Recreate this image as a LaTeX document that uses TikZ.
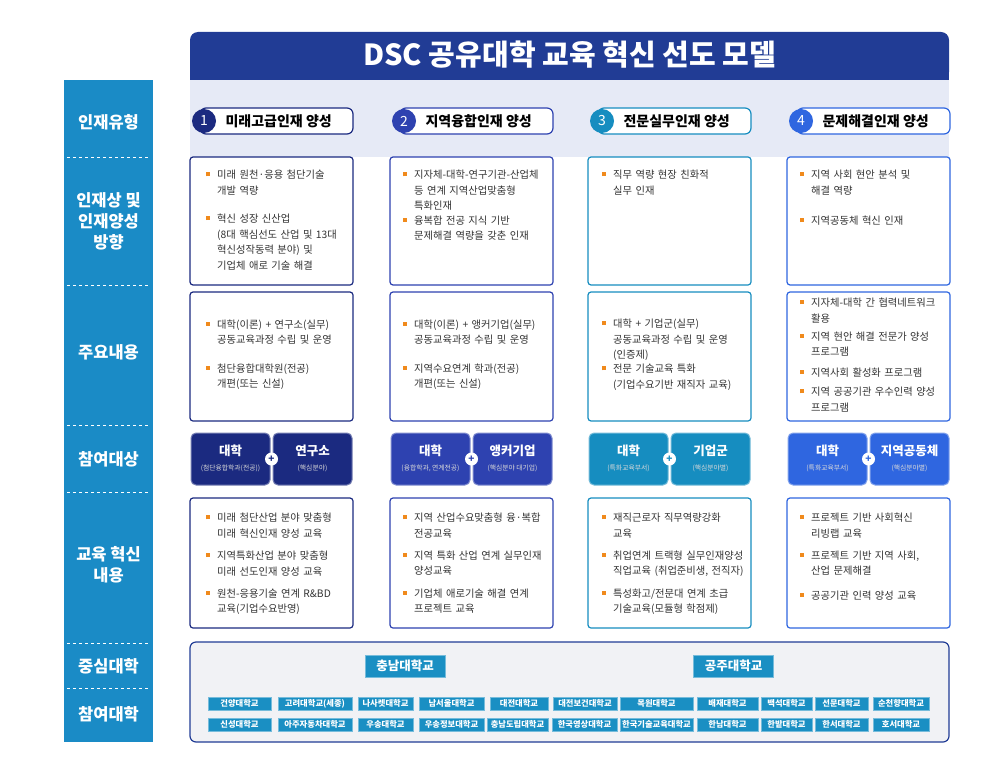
\documentclass[tikz,border=0pt]{standalone}
\usepackage{fontspec}
\setmainfont{Noto Sans CJK KR}
\usetikzlibrary{calc}
\definecolor{lbar}{HTML}{1A8BC6}
\definecolor{tbar}{HTML}{213C95}
\definecolor{light}{HTML}{E6EAF6}
\definecolor{cA}{HTML}{1B2A80}
\definecolor{cB}{HTML}{2E42B0}
\definecolor{cC}{HTML}{168DC0}
\definecolor{cD}{HTML}{2F66E0}
\definecolor{borange}{HTML}{F08A1C}
\definecolor{txt}{HTML}{333333}
\definecolor{uni}{HTML}{1A8FC3}
\definecolor{gbg}{HTML}{F1F2F5}
\newcommand\bi[1]{\noindent\makebox[11pt][l]{\textcolor{borange}{\rule[2.5pt]{4pt}{4pt}}}\parbox[t]{145pt}{#1\strut}\par}
\newcommand\gap{\vspace{14pt}}
\newcommand\sgap{\vspace{4pt}}
\newcommand\mgap{\vspace{8pt}}
\tikzset{
  lab/.style={text=white,font=\bfseries\fontsize{16.5}{21}\selectfont,align=center},
  box/.style={draw=#1,line width=1.2pt,rounded corners=3pt,fill=white},
  btxt/.style={anchor=north west,text width=156pt,font=\fontsize{10.3}{15.5}\selectfont,text=txt,inner sep=0pt},
  ctxt/.style={anchor=west,text width=156pt,font=\fontsize{10.3}{15.5}\selectfont,text=txt,inner sep=0pt},
  chip/.style={fill=#1,draw=#1!60!white,line width=1pt,rounded corners=5pt},
  uc/.style={fill=uni,draw=uni!60!white,line width=0.6pt,text=white,font=\bfseries\fontsize{8.3}{9}\selectfont,inner sep=0pt,minimum height=13pt},
  sep/.style={white,dashed,line width=1pt}
}
\begin{document}
\begin{tikzpicture}[x=1pt,y=-1pt]
\useasboundingbox (0,0) rectangle (1000,773);
% left bar
\fill[lbar] (64,80) rectangle (153,742);
\foreach \y in {157,285,425,492,643,688} \draw[sep] (67,\y) -- (150,\y);
\node[lab] (l1) at (108.5,122) {인재유형};
\node[lab] (l2) at (108.5,221) {인재상 및\\인재양성\\방향};
\node[lab] (l3) at (108.5,352) {주요내용};
\node[lab] (l4) at (108.5,459) {참여대상};
\node[lab] (l5) at (108.5,565) {교육 혁신\\내용};
\node[lab] (l6) at (108.5,666) {중심대학};
\node[lab] (l7) at (108.5,714) {참여대학};
% title
\fill[light] (190,70) rectangle (949,157);
\fill[tbar,rounded corners=8pt] (190,32) rectangle (949,80);
\fill[tbar] (190,70) rectangle (949,80);
\node[text=white,font=\bfseries\fontsize{29}{32}\selectfont] (title) at (569.5,55) {DSC 공유대학 교육 혁신 선도 모델};
% columns
\foreach \x/\c/\n/\t in {190/cA/1/미래고급인재 양성,390/cB/2/지역융합인재 양성,588/cC/3/전문실무인재 양성,787/cD/4/문제해결인재 양성}{
  \draw[\c,line width=1.2pt,fill=white,rounded corners=6pt] (\x+10,108) rectangle (\x+163,134);
  \fill[\c] (\x+14,121) circle (12);
  \node[text=white,font=\fontsize{14}{15}\selectfont] at (\x+14,121) {\n};
  \node[anchor=west,font=\bfseries\fontsize{14}{16}\selectfont,text=black] at (\x+32,121) {\t};
  \draw[box=\c] (\x,157) rectangle (\x+163,285);
  \draw[box=\c] (\x,292) rectangle (\x+163,421);
  \draw[box=\c] (\x,498) rectangle (\x+163,628);
  \draw[chip=\c] (\x+1,433) rectangle (\x+80,485);
  \draw[chip=\c] (\x+83,433) rectangle (\x+162,485);
  \fill[white] (\x+81.5,459) circle (6.5);
  \node[text=\c,font=\bfseries\fontsize{10}{10}\selectfont] at (\x+81.5,459) {+};
}
% row 2
\node[btxt] (a2) at (206,170) {\bi{미래 원천·응용 첨단기술\\개발 역량}\gap\bi{혁신 성장 신산업\\(8대 핵심선도 산업 및 13대\\혁신성작동력 분야) 및\\기업체 애로 기술 해결}};
\node[btxt] (b2) at (403,170) {\bi{지자체-대학-연구기관-산업체\\등 연계 지역산업맞춤형\\특화인재}\bi{융복합 전공 지식 기반\\문제해결 역량을 갖춘 인재}};
\node[btxt] (c2) at (602,170) {\bi{직무 역량 현장 친화적\\실무 인재}};
\node[btxt] (d2) at (800,170) {\bi{지역 사회 현안 분석 및\\해결 역량}\gap\bi{지역공동체 혁신 인재}};
% row 3
\node[ctxt] (a3) at (206,356) {\bi{대학(이론) + 연구소(실무)\\공동교육과정 수립 및 운영}\gap\bi{첨단융합대학원(전공)\\개편(또는 신설)}};
\node[ctxt] (b3) at (403,356) {\bi{대학(이론) + 앵커기업(실무)\\공동교육과정 수립 및 운영}\gap\bi{지역수요연계 학과(전공)\\개편(또는 신설)}};
\node[ctxt] (c3) at (602,356) {\bi{대학 + 기업군(실무)\\공동교육과정 수립 및 운영\\(인증제)}\bi{전문 기술교육 특화\\(기업수요기반 재직자 교육)}};
\node[ctxt] (d3) at (800,357) {\bi{지자체-대학 간 협력네트워크\\활용}\sgap\bi{지역 현안 해결 전문가 양성\\프로그램}\sgap\bi{지역사회 활성화 프로그램}\sgap\bi{지역 공공기관 우수인력 양성\\프로그램}};
% row 4 chips
\foreach \x/\a/\as/\b/\bs in {190/대학/(첨단융합학과(전공))/연구소/(핵심분야),390/대학/{(융합학과, 연계전공)}/앵커기업/(핵심분야 대기업),588/대학/(특화교육부서)/기업군/(핵심분야별),787/대학/(특화교육부서)/지역공동체/(핵심분야별)}{
  \node[text=white,font=\bfseries\fontsize{12.5}{13}\selectfont] at (\x+40.5,451) {\a};
  \node[text=white!85!black,font=\fontsize{6.8}{7}\selectfont] at (\x+40.5,468) {\as};
  \node[text=white,font=\bfseries\fontsize{12.5}{13}\selectfont] at (\x+122.5,451) {\b};
  \node[text=white!85!black,font=\fontsize{6.8}{7}\selectfont] at (\x+122.5,468) {\bs};
}
% row 5
\node[btxt] (a5) at (206,513) {\bi{미래 첨단산업 분야 맞춤형\\미래 혁신인재 양성 교육}\mgap\bi{지역특화산업 분야 맞춤형\\미래 선도인재 양성 교육}\mgap\bi{원천-응용기술 연계 R\&BD\\교육(기업수요반영)}};
\node[btxt] (b5) at (403,513) {\bi{지역 산업수요맞춤형 융·복합\\전공교육}\mgap\bi{지역 특화 산업 연계 실무인재\\양성교육}\mgap\bi{기업체 애로기술 해결 연계\\프로젝트 교육}};
\node[btxt] (c5) at (602,513) {\bi{재직근로자 직무역량강화\\교육}\mgap\bi{취업연계 트랙형 실무인재양성\\직업교육 (취업준비생, 전직자)}\mgap\bi{특성화고/전문대 연계 초급\\기술교육(모듈형 학점제)}};
\node[btxt] (d5) at (800,513) {\bi{프로젝트 기반 사회혁신\\리빙랩 교육}\mgap\bi{프로젝트 기반 지역 사회,\\산업 문제해결}\mgap\bi{공공기관 인력 양성 교육}};
% bottom box
\draw[tbar,line width=1.2pt,fill=gbg,rounded corners=6pt] (190,642) rectangle (949,742);
\node[uc,minimum width=80pt,minimum height=22pt,font=\bfseries\fontsize{12.5}{13}\selectfont] (cn) at (405,666) {충남대학교};
\node[uc,minimum width=80pt,minimum height=22pt,font=\bfseries\fontsize{12.5}{13}\selectfont] (gj) at (733.5,666) {공주대학교};
\foreach \l/\r/\t [count=\i] in {208/271/건양대학교,278/352/고려대학교(세종),358/413/나사렛대학교,419/484/남서울대학교,490/548/대전대학교,553/617/대전보건대학교,620/693/목원대학교,697/758/배재대학교,761/812/백석대학교,815/868/선문대학교,873/929/순천향대학교}
  \node[uc,minimum width={\r-\l}] (u\i) at ({(\l+\r)/2},703.5) {\t};
\foreach \l/\r/\t [count=\i] in {208/271/신성대학교,278/352/아주자동차대학교,358/413/우송대학교,419/484/우송정보대학교,487/548/충남도립대학교,552/617/한국영상대학교,620/693/한국기술교육대학교,697/758/한남대학교,761/812/한밭대학교,815/868/한서대학교,873/929/호서대학교}
  \node[uc,minimum width={\r-\l}] (v\i) at ({(\l+\r)/2},724.5) {\t};
\end{tikzpicture}
\end{document}
